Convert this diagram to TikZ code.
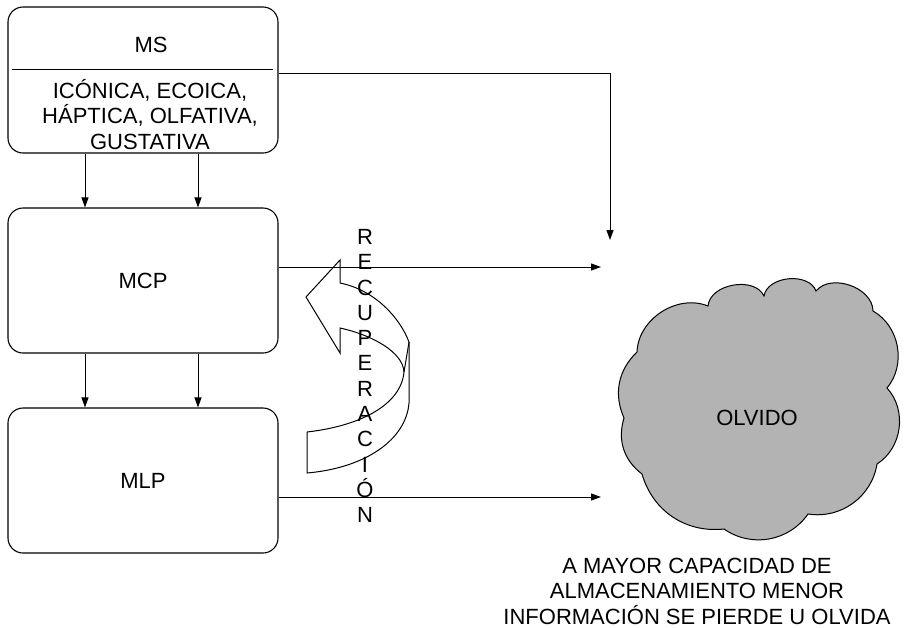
\documentclass[tikz,border=0pt]{standalone}
\usepackage{fontspec}
\setmainfont{Liberation Sans}
\usetikzlibrary{arrows.meta}
\definecolor{cloudgray}{RGB}{179,179,179}
\begin{document}
\begin{tikzpicture}[x=1pt,y=-1pt,
  every node/.style={font=\fontsize{22}{25.5}\selectfont, inner sep=0pt},
  memory/.style={draw, line width=1.1pt, rounded corners=15pt, minimum width=270pt},
  flow/.style={line width=1pt, -{Triangle[length=10pt,width=7pt]}},
  bendarrow/.style={draw, fill=white, line width=1pt, line join=miter}]
\useasboundingbox (0,0) rectangle (904,627);

% memory stores
\node[memory, minimum height=146pt] (ms) at (143,80) {};
\node (mstitle) at (151,45) {MS};
\node[align=center] (mstypes) at (150,114.5) {ICÓNICA, ECOICA,\\HÁPTICA, OLFATIVA,\\GUSTATIVA};
\draw[line width=1pt] (12,69) -- (273,69);
\node[memory, minimum height=145pt] (mcp) at (143,280.5) {MCP};
\node[memory, minimum height=145pt] (mlp) at (143,480.5) {MLP};

% transfers between stores
\draw[flow] ([xshift=-58pt]ms.south) -- ([xshift=-58pt]mcp.north);
\draw[flow] ([xshift=55pt]ms.south) -- ([xshift=55pt]mcp.north);
\draw[flow] ([xshift=-58pt]mcp.south) -- ([xshift=-58pt]mlp.north);
\draw[flow] ([xshift=55pt]mcp.south) -- ([xshift=55pt]mlp.north);

% forgetting cloud
\draw[fill=cloudgray, line width=1pt]
  (708,306) to[bend left=75] (764,296) to[bend left=75] (816,291)
  to[bend left=70] (873,311) to[bend left=50] (887,388)
  to[bend left=50] (877,464) to[bend left=45] (808,514)
  to[bend left=45] (724,529) to[bend left=40] (642,474)
  to[bend left=35] (624,418) to[bend left=35] (637,352)
  to[bend left=55] (708,306) -- cycle;
\node (olvido) at (757,418) {OLVIDO};
\node[align=center] (note) at (697,591) {A MAYOR CAPACIDAD DE\\ALMACENAMIENTO MENOR\\INFORMACIÓN SE PIERDE U OLVIDA};

% retrieval arrow
\path[bendarrow] (306,297) -- (340,260) -- (340,283)
  .. controls (375,290) and (400,318) .. (409,342) -- (409,403)
  .. controls (406,440) and (365,468) .. (307,473) -- (307,432)
  .. controls (360,426) and (401,405) .. (404,372)
  .. controls (403,352) and (372,335) .. (340,328) -- (340,353) -- cycle;
\draw[line width=1pt] (409,342) -- (404,372);

% loss to forgetting
\coordinate (olvtop) at (610,240);
\coordinate (mcpend) at (601,267);
\coordinate (mlpend) at (601,497);
\draw[flow] (ms.east |- 0,73) -| (olvtop);
\draw[flow] (mcp.east |- mcpend) -- (mcpend);
\draw[flow] (mlp.east |- mlpend) -- (mlpend);

\node[align=center, font=\fontsize{22}{25.3}\selectfont] (recup) at (365,376)
  {R\\E\\C\\U\\P\\E\\R\\A\\C\\I\\Ó\\N};
\end{tikzpicture}
\end{document}
